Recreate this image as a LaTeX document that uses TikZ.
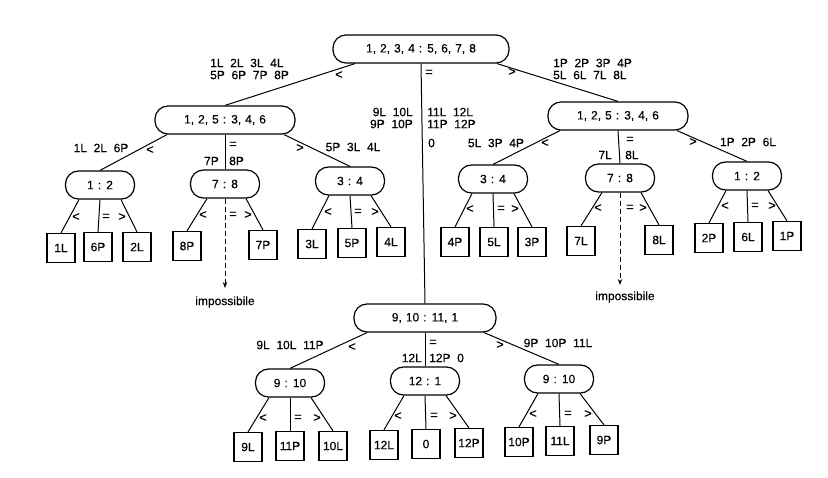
\documentclass[tikz,border=0pt]{standalone}
\usepackage{fontspec}
\setmainfont{Liberation Sans}[WordSpace=1.2, FakeBold=0.4]
\newfontfamily\lblfont{Liberation Sans}[WordSpace=2.0, FakeBold=0.4]
\usetikzlibrary{arrows.meta}
\tikzset{
  cmp/.style={draw, line width=1.2pt, rounded corners=13pt, minimum height=28pt, inner sep=0pt, font=\fontsize{12}{14}\selectfont},
  leaf/.style={draw, line width=1.2pt, minimum width=28pt, minimum height=29pt, inner sep=0pt, font=\fontsize{12}{14}\selectfont},
  lbl/.style={inner sep=0pt, font=\lblfont\fontsize{12}{12}\selectfont},
  rel/.style={inner sep=0pt, font=\fontsize{13}{14}\selectfont},
  edge/.style={line width=1pt}
}

\begin{document}
\begin{tikzpicture}[x=1pt,y=-1pt]
  \useasboundingbox (0,0) rectangle (828,478);
  % comparisons
  \node[cmp, minimum width=176pt] (root) at (421,49) {1, 2, 3, 4 : 5, 6, 7, 8};
  \node[cmp, minimum width=140pt] (cL) at (225,120) {1, 2, 5 : 3, 4, 6};
  \node[cmp, minimum width=140pt] (cR) at (618,116) {1, 2, 5 : 3, 4, 6};
  \node[cmp, minimum width=142pt] (cM) at (425,318) {9, 10 : 11, 1};
  \foreach \n/\x/\y/\t in {cL1/100/185/1 : 2, cL2/225/184/7 : 8, cL3/350/181/3 : 4,
                           cR1/493/179/3 : 4, cR2/620/178/7 : 8, cR3/747/176/1 : 2,
                           cM1/290/383/9 : 10, cM2/425/381/12 : 1, cM3/559/379/9 : 10}
    \node[cmp, minimum width=69pt] (\n) at (\x,\y) {\t};
  % leaves
  \foreach \n/\x/\y/\t in {cL1-a/61/248/1L, cL1-b/98/247/6P, cL1-c/137/247/2L,
                           cL2-a/187/246/8P, cL2-c/263/245/7P,
                           cL3-a/312/244/3L, cL3-b/352/243/5P, cL3-c/391/242/4L,
                           cR1-a/455/242/4P, cR1-b/494/242/5L, cR1-c/532/242/3P,
                           cR2-a/581/241/7L, cR2-c/659/240/8L,
                           cR3-a/709/238/2P, cR3-b/748/237/6L, cR3-c/787/236/1P,
                           cM1-a/248/447/9L, cM1-b/290/446/11P, cM1-c/333/446/10L,
                           cM2-a/384/445/12L, cM2-b/426/444/0, cM2-c/469/443/12P,
                           cM3-a/519/442/10P, cM3-b/560/441/11L, cM3-c/604/440/9P}
    \node[leaf] (\n) at (\x,\y) {\t};
  % branches
  \draw[edge] ([xshift=-66pt]root.south) -- (cL.north);
  \draw[edge] (root.south) -- (cM.north);
  \draw[edge] ([xshift=76pt]root.south) -- (cR.north);
  \foreach \p in {cL,cR,cM}{
    \draw[edge] ([xshift=-58pt]\p.south) -- (\p1.north);
    \draw[edge] (\p.south) -- (\p2.north);
    \draw[edge] ([xshift=59pt]\p.south) -- (\p3.north);
  }
  \foreach \p in {cL1,cL3,cR1,cR3,cM1,cM2,cM3}{
    \draw[edge] ([xshift=-21pt]\p.south) -- (\p-a.north);
    \draw[edge] (\p.south) -- (\p-b.north);
    \draw[edge] ([xshift=21pt]\p.south) -- (\p-c.north);
  }
  \foreach \p in {cL2,cR2}{
    \draw[edge] ([xshift=-18pt]\p.south) -- (\p-a.north);
    \draw[edge] ([xshift=21pt]\p.south) -- (\p-c.north);
  }
  % impossible outcomes
  \coordinate (eL) at (225,288);
  \coordinate (eR) at (620,285);
  \draw[edge, dash pattern=on 5pt off 3pt, -{Stealth[length=6pt,width=4.5pt]}] (cL2.south) -- (eL);
  \draw[edge, dash pattern=on 5pt off 3pt, -{Stealth[length=6pt,width=4.5pt]}] (cR2.south) -- (eR);
  \node[lbl] (impL) at (225,302) {impossibile};
  \node[lbl] (impR) at (625,297) {impossibile};
  % outcome signs
  \foreach \p/\xa/\ya/\xb/\yb/\xc/\yc in {root/339/75/429/73/512/72,
      cL/150/150/233/145/300/148, cR/545/143/630/140/693/142, cM/352/347/433/343/500/345,
      cL1/76/217/106/217/122/217, cL2/203/215/233/215/248/215, cL3/328/212/358/212/375/212,
      cR1/470/209/501/209/515/209, cR2/598/208/630/208/643/208, cR3/725/206/755/206/772/206,
      cM1/263/418/298/418/317/418, cM2/398/416/434/416/453/416, cM3/533/414/568/414/588/414}{
    \node[rel] (\p-lt) at (\xa,\ya) {<};
    \node[rel] (\p-eq) at (\xb,\yb) {=};
    \node[rel] (\p-gt) at (\xc,\yc) {>};
  }
  % coin sets
  \node[lbl, anchor=west, align=left] (tL) at (210,69) {1L 2L 3L 4L\\5P 6P 7P 8P};
  \node[lbl, anchor=west, align=left] (tR) at (553,69) {1P 2P 3P 4P\\5L 6L 7L 8L};
  \node[lbl, anchor=east, align=right] (tMl) at (413,118) {9L 10L\\9P 10P};
  \node[lbl, anchor=west, align=left] (tMr) at (427,118) {11L 12L\\11P 12P};
  \node[lbl, anchor=west] (tM0) at (428,143) {0};
  \node[lbl] (tL1) at (101,148) {1L 2L 6P};
  \node[lbl, anchor=east] (tL2l) at (219,161) {7P};
  \node[lbl, anchor=west] (tL2r) at (229,161) {8P};
  \node[lbl] (tL3) at (353,147) {5P 3L 4L};
  \node[lbl] (tR1) at (496,143) {5L 3P 4P};
  \node[lbl, anchor=east] (tR2l) at (612,155) {7L};
  \node[lbl, anchor=west] (tR2r) at (625,155) {8L};
  \node[lbl] (tR3) at (748,142) {1P 2P 6L};
  \node[lbl] (tM1) at (290,345) {9L 10L 11P};
  \node[lbl, anchor=east] (tM2l) at (422,358) {12L};
  \node[lbl, anchor=west] (tM2r) at (429,358) {12P 0};
  \node[lbl] (tM3) at (558,343) {9P 10P 11L};
\end{tikzpicture}
\end{document}
